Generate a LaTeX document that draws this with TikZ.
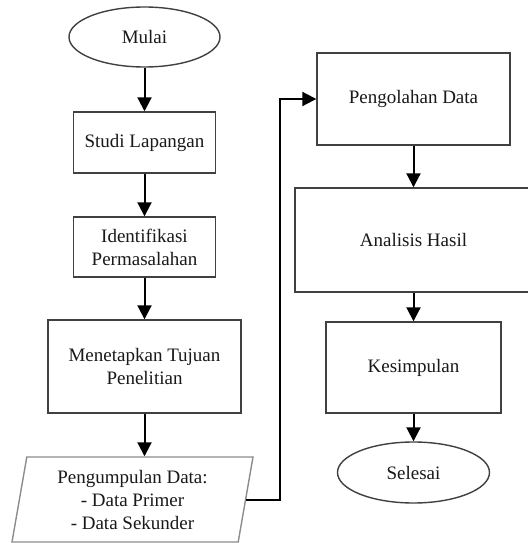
\documentclass[tikz,border=0pt]{standalone}
\usepackage{fontspec}
\setmainfont{Liberation Serif}
\usetikzlibrary{arrows.meta,shapes.geometric}

\begin{document}
\begin{tikzpicture}[x=1pt, y=-1pt, auto, line width=2pt, >={Triangle[length=14pt,width=14pt]}]
    \tikzstyle{block}=[rectangle, draw=black!75, line width=1.4pt, fill=white, align=center, text=black!90, font=\fontsize{19}{23}\selectfont, inner sep=0pt]
    \tikzstyle{terminal}=[block, ellipse, minimum width=151pt, minimum height=60pt]
    \tikzstyle{io}=[block, trapezium, trapezium left angle=76, trapezium right angle=104, trapezium stretches body, draw=black!45, minimum width=241pt, minimum height=85pt]
    \useasboundingbox (0,0) rectangle (527,543);
    % left column
    \node[terminal] (mulai) at (144.5,37) {Mulai};
    \node[block, minimum width=142pt, minimum height=61pt] (studi) at (144.5,142.5) {Studi Lapangan};
    \node[block, minimum width=142pt, minimum height=60pt] (identifikasi) at (144.5,247) {Identifikasi\\Permasalahan};
    \node[block, minimum width=193pt, minimum height=93pt] (tujuan) at (144.5,366.5) {Menetapkan Tujuan\\Penelitian};
    \node[io] (data) at (132.5,499.5) {Pengumpulan Data:\\- Data Primer\\- Data Sekunder};
    % right column
    \node[block, minimum width=193pt, minimum height=92pt] (olah) at (413.5,99) {Pengolahan Data};
    \node[block, minimum width=237pt, minimum height=104pt] (analisis) at (413.5,240) {Analisis Hasil};
    \node[block, minimum width=175pt, minimum height=91pt] (kesimpulan) at (413.5,367.5) {Kesimpulan};
    \node[terminal, minimum width=152pt, minimum height=61pt] (selesai) at (413.5,472.5) {Selesai};
    \draw (mulai) edge[->] (studi);
    \draw (studi) edge[->] (identifikasi);
    \draw (identifikasi) edge[->] (tujuan);
    \draw[->] (tujuan) -- (tujuan |- data.north);
    \draw[->] (data.east) -- ++(34,0) |- (olah.west);
    \draw (olah) edge[->] (analisis);
    \draw (analisis) edge[->] (kesimpulan);
    \draw (kesimpulan) edge[->] (selesai);
\end{tikzpicture}
\end{document}
